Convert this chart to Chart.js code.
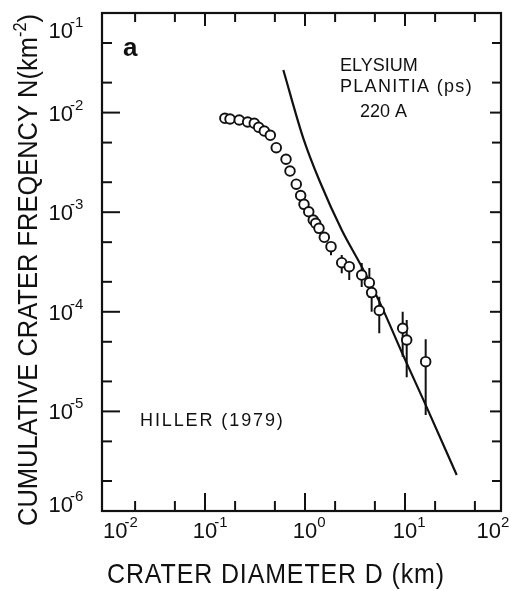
<!DOCTYPE html>
<html>
<head>
<meta charset="utf-8">
<script src="https://cdn.jsdelivr.net/npm/chart.js@4.4.1/dist/chart.umd.min.js"></script>
<style>
html,body{margin:0;padding:0;background:#ffffff;}
#c{display:block;}
</style>
</head>
<body>
<canvas id="c" width="511" height="591"></canvas>
<script>
// ---- data ----
const diameters = [0.158,0.178,0.220,0.267,0.311,0.344,0.392,0.450,0.516,0.646,0.708,0.818,0.905,0.977,1.09,1.21,1.28,1.38,1.56,1.82,2.33,2.77,3.69,4.40,4.64,5.53,9.48,10.4,16.1];
const frequencies = [8.77e-3,8.62e-3,8.43e-3,8.05e-3,7.81e-3,7.12e-3,6.53e-3,5.92e-3,4.44e-3,3.40e-3,2.59e-3,1.91e-3,1.47e-3,1.20e-3,1.01e-3,8.35e-4,7.74e-4,6.89e-4,5.60e-4,4.51e-4,3.11e-4,2.84e-4,2.34e-4,1.96e-4,1.56e-4,1.03e-4,6.83e-5,5.21e-5,3.16e-5];
const errorHigh = [null,null,null,null,null,null,null,null,null,null,null,null,null,null,null,null,null,null,null,4.8e-4,3.72e-4,3.18e-4,3.09e-4,2.75e-4,2.08e-4,1.42e-4,1.00e-4,8.28e-5,5.30e-5];
const errorLow  = [null,null,null,null,null,null,null,null,null,null,null,null,null,null,null,null,null,null,null,3.7e-4,2.44e-4,2.08e-4,1.77e-4,1.38e-4,1.00e-4,6.08e-5,3.54e-5,2.20e-5,9.2e-6];
const curveDiameters = [0.607,0.962,1.41,2.33,3.69,5.62,9.55,15.8,32.9];
const curveFrequencies = [2.68e-2,5.52e-3,2.02e-3,6.63e-4,2.84e-4,1.23e-4,3.68e-5,1.21e-5,2.30e-6];
const xTickValues = [1e-2,1e-1,1e0,1e1,1e2];
const xTickExponents = ['-2','-1','0','1','2'];
const yTickValues = [1e-1,1e-2,1e-3,1e-4,1e-5,1e-6];
const yTickExponents = ['-1','-2','-3','-4','-5','-6'];
const minorMultipliers = [2,5];
const xTitle = 'CRATER DIAMETER D (km)';
const yTitleParts = ['CUMULATIVE CRATER FREQENCY N(km','-2',')'];
const annotations = ['a','ELYSIUM','PLANITIA (ps)','220 A','HILLER (1979)'];

// ---- build datasets from arrays ----
const circlePoints = diameters.map((d,i)=>({x:d,y:frequencies[i]}));
const errorPoints = [];
diameters.forEach((d,i)=>{
  if (errorHigh[i]!==null && errorLow[i]!==null){
    errorPoints.push({x:d,y:errorLow[i]},{x:d,y:errorHigh[i]},{x:d,y:null});
  }
});
const curvePoints = curveDiameters.map((d,i)=>({x:d,y:curveFrequencies[i]}));

const INK = '#111111';
const FONT = '"Liberation Sans", Arial, sans-serif';

function seg(ctx,x1,y1,x2,y2){ctx.beginPath();ctx.moveTo(x1,y1);ctx.lineTo(x2,y2);ctx.stroke();}

const framePlugin = {
  id:'frame',
  afterDraw(chart){
    const {ctx, chartArea:a, scales:{x,y}} = chart;
    ctx.save();
    ctx.strokeStyle = INK; ctx.fillStyle = INK; ctx.lineWidth = 2.2;
    ctx.lineCap = 'butt';
    ctx.strokeRect(a.left, a.top, a.right-a.left, a.bottom-a.top);
    ctx.lineWidth = 2;
    // x ticks
    const xt = [];
    xTickValues.forEach(v=>{xt.push([v,true]); minorMultipliers.forEach(m=>xt.push([v*m,false]));});
    xt.forEach(([v,maj])=>{
      const px = x.getPixelForValue(v);
      if (px < a.left+5 || px > a.right-5) return;
      seg(ctx,px,a.bottom,px,a.bottom-(maj?18:10));
      seg(ctx,px,a.top,px,a.top+(maj?13:9));
    });
    const yt = [];
    yTickValues.forEach(v=>{yt.push([v,true]); minorMultipliers.forEach(m=>yt.push([v*m,false]));});
    yt.forEach(([v,maj])=>{
      const py = y.getPixelForValue(v);
      if (py < a.top+5 || py > a.bottom-5) return;
      seg(ctx,a.left,py,a.left+(maj?18:10),py);
      seg(ctx,a.right,py,a.right-(maj?11:9),py);
    });
    // tick labels
    ctx.textBaseline = 'alphabetic'; ctx.textAlign = 'left';
    const big = `22px ${FONT}`, small = `15px ${FONT}`;
    ctx.font = big; const w10 = ctx.measureText('10').width;
    const drawPow = (left, base, e)=>{
      ctx.font = big; ctx.fillText('10', left, base);
      ctx.font = small; ctx.fillText(e, left + w10 - (e[0]==='-'?3:0), base-11);
    };
    xTickValues.forEach((v,i)=>{
      const px = x.getPixelForValue(v);
      let left = px - w10/2;
      if (i===0) left = a.left+1;
      if (i===xTickValues.length-1) left = a.right - w10;
      drawPow(left, a.bottom+27, xTickExponents[i]);
    });
    yTickValues.forEach((v,i)=>{
      let cy = y.getPixelForValue(v);
      cy = Math.max(a.top+17, Math.min(a.bottom-7, cy));
      drawPow(a.left-29-w10, cy+8, yTickExponents[i]);
    });
    // x title
    ctx.font = `28px ${FONT}`; ctx.textAlign='center';
    ctx.letterSpacing = '1px';
    ctx.fillText(xTitle, 276, 583, 338);
    ctx.letterSpacing = '0px';
    // y title (rotated, compressed to the reference length)
    ctx.save();
    ctx.translate(27, 270); ctx.rotate(-Math.PI/2);
    ctx.textAlign='left';
    const fBig = `28px ${FONT}`, fSup = `18px ${FONT}`;
    ctx.font = fBig; const w1 = ctx.measureText(yTitleParts[0]).width; const w3 = ctx.measureText(yTitleParts[2]).width;
    ctx.font = fSup; const w2 = ctx.measureText(yTitleParts[1]).width;
    const W = w1+w2+w3; const s = 512/W;
    ctx.scale(s,1);
    let u = -W/2;
    ctx.font = fBig; ctx.fillText(yTitleParts[0], u, 10); u+=w1;
    ctx.font = fSup; ctx.fillText(yTitleParts[1], u, -1); u+=w2;
    ctx.font = fBig; ctx.fillText(yTitleParts[2], u, 10);
    ctx.restore();
    // annotations
    ctx.textAlign='left';
    ctx.font = `bold 26px ${FONT}`; ctx.fillText(annotations[0], 123, 56);
    ctx.font = `18px ${FONT}`;
    ctx.fillText(annotations[1], 340, 71);
    ctx.letterSpacing = '1.3px'; ctx.fillText(annotations[2], 340, 92);
    ctx.letterSpacing = '0px'; ctx.fillText(annotations[3], 360, 117);
    ctx.letterSpacing = '1.9px'; ctx.fillText(annotations[4], 140, 426);
    ctx.letterSpacing = '0px';
    ctx.restore();
  }
};

new Chart(document.getElementById('c'), {
  type:'line',
  data:{
    datasets:[
      {label:'circles', data:circlePoints, showLine:false, pointRadius:4.8, pointBorderWidth:1.9,
       pointBorderColor:INK, pointBackgroundColor:'#ffffff', order:0},
      {label:'error bars', data:errorPoints, spanGaps:false, pointRadius:0, borderColor:INK,
       borderWidth:2, order:1},
      {label:'production curve', data:curvePoints, pointRadius:0, borderColor:INK, borderWidth:2.2,
       cubicInterpolationMode:'monotone', order:2}
    ]
  },
  options:{
    responsive:false, animation:false, devicePixelRatio:1,
    layout:{padding:{left:102, right:10, top:13, bottom:80}},
    plugins:{legend:{display:false}, tooltip:{enabled:false}},
    scales:{
      x:{type:'logarithmic', min:Math.pow(10,-2.03), max:Math.pow(10,1.96), display:false},
      y:{type:'logarithmic', min:1e-6, max:1e-1, display:false}
    }
  },
  plugins:[framePlugin]
});
</script>
</body>
</html>
